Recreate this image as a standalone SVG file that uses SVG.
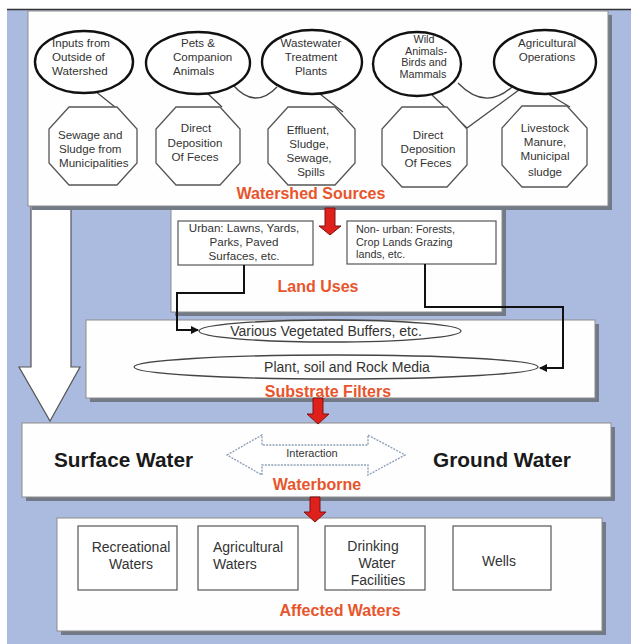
<svg xmlns="http://www.w3.org/2000/svg" width="631" height="644" viewBox="0 0 631 644">
<defs>
<style>
.bg{fill:#abbadf}
.shadow{fill:#727a88}
.box{fill:#fefefe;stroke:#8c8c8c;stroke-width:1}
.ell{fill:#fff;stroke:#111;stroke-width:2.4}
.oct{fill:#fff;stroke:#555;stroke-width:1.3}
.thin{fill:none;stroke:#444;stroke-width:1.3}
.inner{fill:#fff;stroke:#555;stroke-width:1.2}
.t{font-family:"Liberation Sans",Arial,sans-serif;fill:#333;font-size:11.6px}
.ts{font-family:"Liberation Sans",Arial,sans-serif;fill:#333;font-size:10.8px}
.tm{font-family:"Liberation Sans",Arial,sans-serif;fill:#333;font-size:14px}
.title{font-family:"Liberation Sans",Arial,sans-serif;fill:#e8552c;font-size:16px;font-weight:bold;text-anchor:middle}
.big{font-family:"Liberation Sans",Arial,sans-serif;fill:#1a1a1a;font-size:20.8px;font-weight:bold}
.c{text-anchor:middle}
.red{fill:#e0201a;stroke:#7a1512;stroke-width:1}
.conn{fill:none;stroke:#111;stroke-width:2}
</style>
<marker id="ah" markerWidth="8" markerHeight="8" refX="7" refY="4" orient="auto" markerUnits="userSpaceOnUse">
<path d="M0,0 L8,4 L0,8 z" fill="#111"/>
</marker>
</defs>

<rect width="631" height="644" fill="#fff"/>
<rect class="bg" x="7" y="10" width="624" height="634"/>
<line x1="7" y1="9.5" x2="631" y2="9.5" stroke="#333" stroke-width="1.5"/>

<!-- big white arrow -->
<g id="bigArrow">
<polygon points="31,190 71,190 71,367 80,367 50,421 19,367 31,367" fill="#fff" stroke="#555" stroke-width="1.2"/>
</g>

<!-- Land Uses -->
<g id="landUses">
<rect class="shadow" x="175" y="209" width="331" height="107"/>
<rect class="box" x="171" y="205" width="331" height="107"/>
<rect class="inner" x="178" y="221" width="135" height="44"/>
<text class="t c" x="244" y="232">Urban: Lawns, Yards,</text>
<text class="t c" x="244" y="246">Parks, Paved</text>
<text class="t c" x="244" y="260">Surfaces, etc.</text>
<rect class="inner" x="347" y="221" width="149" height="43"/>
<text class="ts" x="356" y="233">Non- urban: Forests,</text>
<text class="ts" x="356" y="245.5">Crop Lands Grazing</text>
<text class="ts" x="356" y="258">lands, etc.</text>
<text class="title" x="318" y="292">Land Uses</text>
</g>

<!-- Watershed Sources -->
<g id="watershed">
<rect class="shadow" x="32" y="15" width="580" height="195"/>
<rect class="box" x="28" y="11" width="580" height="195"/>
<g id="links" class="thin">
<line x1="95" y1="91" x2="115" y2="107"/>
<line x1="207" y1="93" x2="222" y2="107"/>
<line x1="320" y1="94" x2="343" y2="112"/>
<line x1="432" y1="95" x2="467" y2="128"/>
<line x1="523" y1="87" x2="467" y2="128"/>
<line x1="548" y1="94" x2="570" y2="107"/>
<path d="M233,85 Q255,110 277,87"/>
<path d="M458,83 Q485,111 512,87"/>
</g>
<g id="e1"><ellipse class="ell" cx="84" cy="62" rx="49" ry="31"/>
<text class="t" x="52" y="47">Inputs from</text><text class="t" x="52" y="61">Outside of</text><text class="t" x="52" y="75">Watershed</text></g>
<g id="e2"><ellipse class="ell" cx="198" cy="63" rx="52" ry="31"/>
<text class="t c" x="198" y="47">Pets &amp;</text><text class="t" x="173" y="61">Companion</text><text class="t" x="173" y="75">Animals</text></g>
<g id="e3"><ellipse class="ell" cx="312" cy="62" rx="50" ry="32"/>
<text class="t c" x="311" y="47">Wastewater</text><text class="t c" x="311" y="61">Treatment</text><text class="t c" x="311" y="75">Plants</text></g>
<g id="e4"><ellipse class="ell" cx="417" cy="64" rx="44" ry="32"/>
<text class="ts c" x="424" y="43">Wild</text><text class="ts c" x="426" y="54.5">Animals-</text><text class="ts c" x="424" y="66">Birds and</text><text class="ts c" x="423" y="77.5">Mammals</text></g>
<g id="e5"><ellipse class="ell" cx="545" cy="62" rx="51" ry="32"/>
<text class="t c" x="547" y="47">Agricultural</text><text class="t c" x="547" y="61">Operations</text></g>

<g id="o1"><polygon class="oct" points="69,107 117,107 137,129 137,163 117,185 69,185 49,163 49,129"/>
<text class="t" x="58" y="139">Sewage and</text><text class="t" x="59" y="153">Sludge from</text><text class="t" x="59" y="167">Municipalities</text></g>
<g id="o2"><polygon class="oct" points="176,107 220,107 240,129 240,163 220,185 176,185 156,163 156,129"/>
<text class="t c" x="196" y="132">Direct</text><text class="t c" x="195" y="147">Deposition</text><text class="t c" x="195" y="161">Of Feces</text></g>
<g id="o3"><polygon class="oct" points="288,107 335,107 355,129 355,163 335,185 288,185 268,163 268,129"/>
<text class="t c" x="308" y="134">Effluent,</text><text class="t c" x="309" y="148">Sludge,</text><text class="t c" x="309" y="162">Sewage,</text><text class="t c" x="311" y="176">Spills</text></g>
<g id="o4"><polygon class="oct" points="402,107 447,107 467,129 467,165 447,187 402,187 382,165 382,129"/>
<text class="t c" x="428" y="139">Direct</text><text class="t c" x="428" y="153">Deposition</text><text class="t c" x="428" y="167">Of Feces</text></g>
<g id="o5"><polygon class="oct" points="522,106 567,106 587,128 587,165 567,187 522,187 502,165 502,128"/>
<text class="t c" x="545" y="132">Livestock</text><text class="t c" x="545" y="146">Manure,</text><text class="t c" x="545" y="160">Municipal</text><text class="t c" x="545" y="176">sludge</text></g>
<text class="title" x="311" y="199">Watershed Sources</text>
</g>

<!-- Substrate Filters -->
<g id="substrate">
<rect class="shadow" x="90" y="324" width="509" height="78"/>
<rect class="box" x="86" y="320" width="509" height="78"/>
<g id="buffers"><ellipse class="thin" cx="330" cy="331" rx="131" ry="11" fill="#fff"/>
<text class="tm c" x="326" y="336">Various Vegetated Buffers, etc.</text></g>
<g id="media"><ellipse class="thin" cx="336" cy="367" rx="202" ry="12" fill="#fff"/>
<text class="tm c" x="347" y="372">Plant, soil and Rock Media</text></g>
<text class="title" x="328" y="397">Substrate Filters</text>
</g>

<!-- Waterborne -->
<g id="waterborne">
<rect class="shadow" x="26" y="427" width="589" height="74"/>
<rect class="box" x="22" y="423" width="589" height="74"/>
<text class="big" x="54" y="467">Surface Water</text>
<text class="big" x="433" y="467">Ground Water</text>
<polygon points="227,455 262,435 262,445 368,445 368,435 405,455 368,475 368,465 262,465 262,475" fill="#fff" stroke="#8fa0b8" stroke-width="1.4" stroke-dasharray="2,1.2"/>
<text class="t c" x="312" y="457" style="font-size:11px">Interaction</text>
<text class="title" x="317" y="490">Waterborne</text>
</g>

<!-- Affected Waters -->
<g id="affected">
<rect class="shadow" x="61" y="522" width="545" height="113"/>
<rect class="box" x="57" y="518" width="545" height="113"/>
<g id="rec"><rect class="inner" x="78" y="526" width="99" height="64"/>
<text class="tm c" x="131" y="552">Recreational</text><text class="tm c" x="131" y="569">Waters</text></g>
<g id="agr"><rect class="inner" x="198" y="526" width="100" height="64"/>
<text class="tm" x="213" y="552">Agricultural</text><text class="tm" x="213" y="569">Waters</text></g>
<g id="drk"><rect class="inner" x="325" y="526" width="100" height="64"/>
<text class="tm c" x="373" y="551">Drinking</text><text class="tm c" x="377" y="568">Water</text><text class="tm c" x="378" y="585">Facilities</text></g>
<g id="wells"><rect class="inner" x="453" y="526" width="98" height="64"/>
<text class="tm c" x="499" y="566">Wells</text></g>
<text class="title" x="340" y="616">Affected Waters</text>
</g>

<!-- connectors -->
<g id="connectors">
<path class="conn" d="M244,265 V293 H177 V330 H198" marker-end="url(#ah)"/>
<path class="conn" d="M425,264 V307 H563 V368 H540" marker-end="url(#ah)"/>
<polygon class="red" points="325,208 335,208 335,226 341,226 330,235 319,226 325,226"/>
<polygon class="red" points="313,398 323,398 323,414 329,414 318,424 307,414 313,414"/>
<polygon class="red" points="310,497 320,497 320,512 326,512 315,522 304,512 310,512"/>
</g>
</svg>
